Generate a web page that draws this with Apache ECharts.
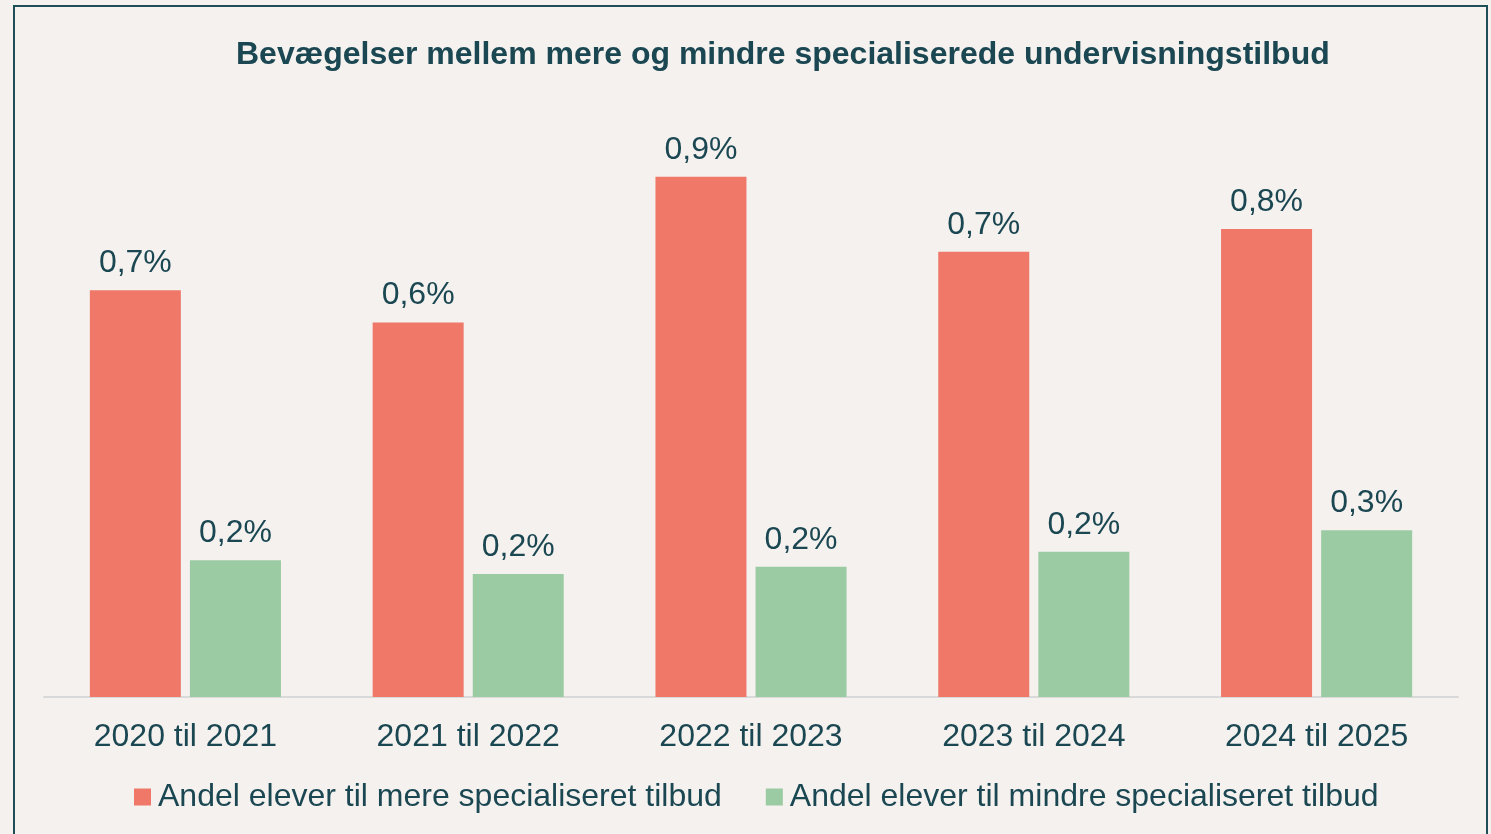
<!DOCTYPE html>
<html>
<head>
<meta charset="utf-8">
<script src="https://cdn.jsdelivr.net/npm/echarts@6/dist/echarts.min.js"></script>
<style>
  html, body { margin: 0; padding: 0; background: #f4f1ee; }
  #chart { width: 1491px; height: 834px; }
</style>
</head>
<body>
<div id="chart"></div>
<script>
// data (shares in %)
var categories = ['2020 til 2021', '2021 til 2022', '2022 til 2023', '2023 til 2024', '2024 til 2025'];
var seriesNames = ['Andel elever til mere specialiseret tilbud', 'Andel elever til mindre specialiseret tilbud'];
var moreSpecialised = [0.678, 0.624, 0.867, 0.742, 0.78];
var lessSpecialised = [0.228, 0.205, 0.217, 0.242, 0.278];

var textColor = '#1b4752';
var font = '"Liberation Sans", Arial, sans-serif';

function pct(p) {
  return p.value.toFixed(1).replace('.', ',') + '%';
}

var chart = echarts.init(document.getElementById('chart'));
chart.setOption({
  backgroundColor: '#f4f1ee',
  animation: false,
  textStyle: { fontFamily: font },
  title: {
    text: 'Bevægelser mellem mere og mindre specialiserede undervisningstilbud',
    left: 231,
    top: 34,
    textStyle: { color: textColor, fontSize: 32, fontWeight: 'bold', fontFamily: font }
  },
  legend: {
    left: 129,
    top: 776,
    itemWidth: 17,
    itemHeight: 17,
    itemGap: 44,
    icon: 'rect',
    textStyle: { color: textColor, fontSize: 32, lineHeight: 32, fontFamily: font, padding: [0, 0, 0, 2] },
    data: seriesNames
  },
  grid: { left: 44, right: 33, top: 97, bottom: 137 },
  xAxis: {
    type: 'category',
    data: categories,
    axisLine: { lineStyle: { color: '#d9d9d9', width: 2 } },
    axisTick: { show: false },
    axisLabel: { color: textColor, fontSize: 32, margin: 24, fontFamily: font }
  },
  yAxis: {
    type: 'value',
    min: 0,
    max: 1,
    show: false,
    splitLine: { show: false }
  },
  series: [
    {
      name: seriesNames[0],
      type: 'bar',
      data: moreSpecialised,
      barWidth: 91,
      barGap: '10%',
      itemStyle: { color: '#f07869' },
      label: { show: true, position: 'top', distance: 11, color: textColor, fontSize: 32, formatter: pct }
    },
    {
      name: seriesNames[1],
      type: 'bar',
      data: lessSpecialised,
      barWidth: 91,
      itemStyle: { color: '#9bcba2' },
      label: { show: true, position: 'top', distance: 11, color: textColor, fontSize: 32, formatter: pct }
    }
  ],
  graphic: [
    {
      type: 'rect',
      shape: { x: 14, y: 6, width: 1473, height: 840 },
      style: { fill: 'none', stroke: '#1f4e59', lineWidth: 2 },
      silent: true
    }
  ]
});
</script>
</body>
</html>
